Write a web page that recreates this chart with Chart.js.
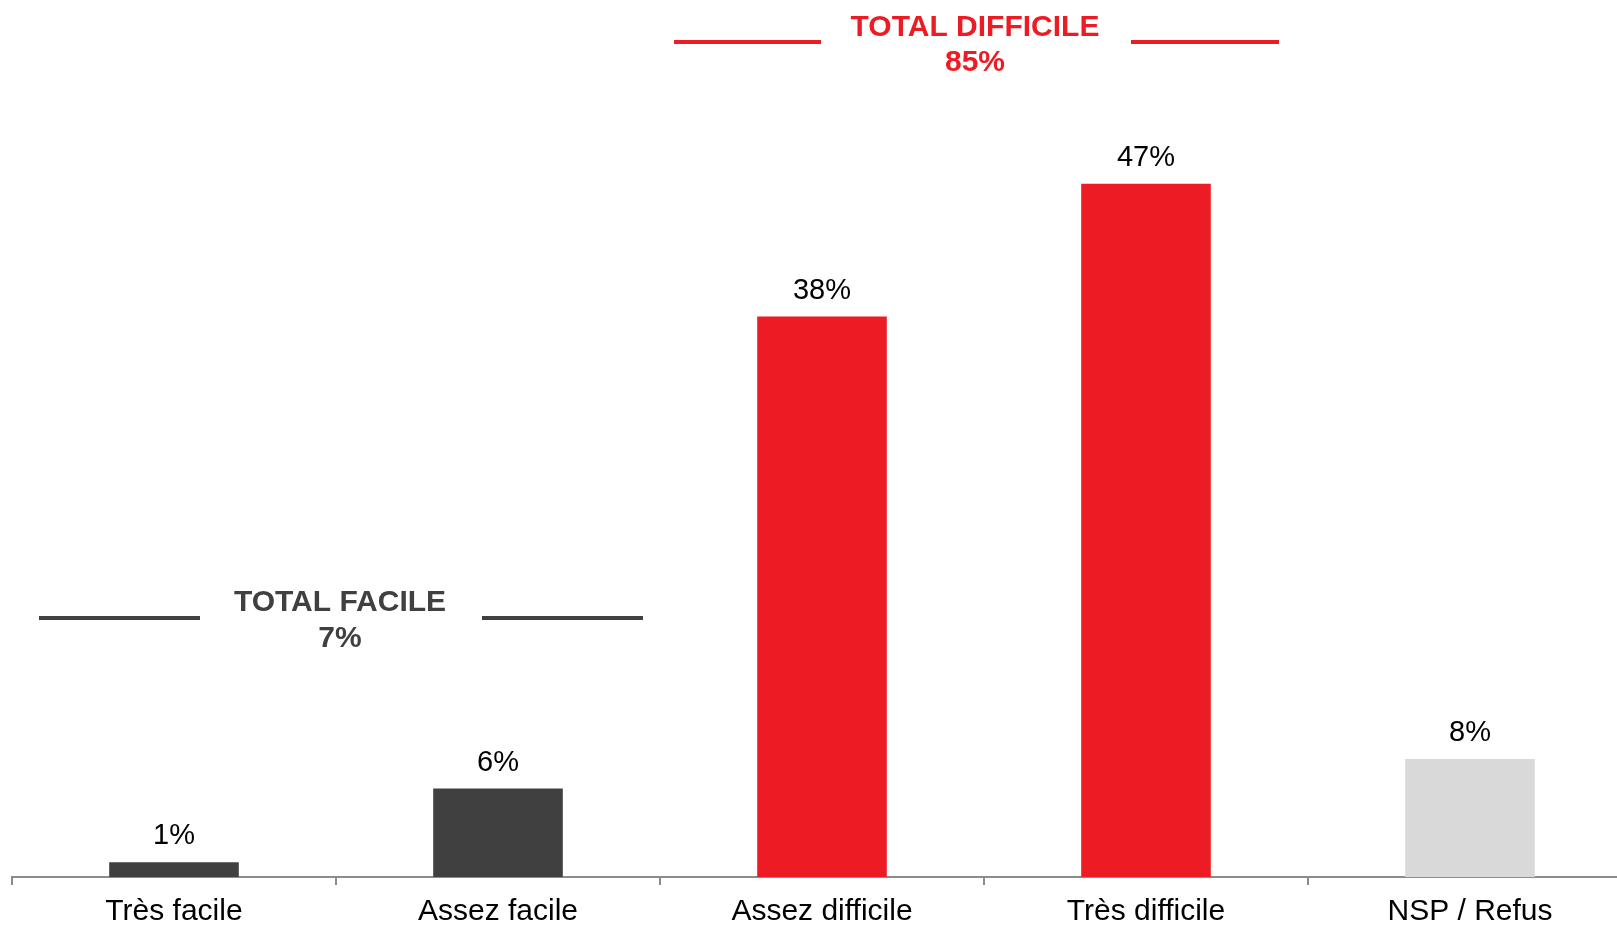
<!DOCTYPE html>
<html>
<head>
<meta charset="utf-8">
<script src="https://cdn.jsdelivr.net/npm/chart.js@4/dist/chart.umd.min.js"></script>
<style>
  html, body { margin: 0; padding: 0; background: #fff; overflow: hidden; }
  #wrap { width: 1617px; height: 925px; overflow: hidden; }
</style>
</head>
<body>
<div id="wrap"><canvas id="myChart" width="1640" height="939"></canvas></div>
<script>
var categories = ['Très facile', 'Assez facile', 'Assez difficile', 'Très difficile', 'NSP / Refus'];
var values = [1, 6, 38, 47, 8];
var barColors = ['#404040', '#404040', '#ED1C24', '#ED1C24', '#D9D9D9'];

// totals shown above groups of bars
var totalLabels = ['TOTAL FACILE', 'TOTAL DIFFICILE'];
var totalValues = [7, 85];
var totalGroups = [[0, 1], [2, 3]];

var FONT = '"Liberation Sans", Arial, sans-serif';

// value labels above the bars
var valueLabels = {
    id: 'valueLabels',
    afterDatasetsDraw: function(chart) {
        var ctx = chart.ctx;
        var meta = chart.getDatasetMeta(0);
        ctx.save();
        ctx.font = '29px ' + FONT;
        ctx.fillStyle = '#000';
        ctx.textAlign = 'center';
        ctx.textBaseline = 'alphabetic';
        meta.data.forEach(function(bar, i) {
            ctx.fillText(values[i] + '%', bar.x, bar.y - 18);
        });
        ctx.restore();
    }
};

// group totals with lines either side
var totalsPlugin = {
    id: 'totals',
    afterDraw: function(chart) {
        var ctx = chart.ctx;
        var x = chart.scales.x;
        var styles = [
            { color: '#404040', dx: 4, top: 603, line: 618, second: 639, l: [-297, -136], r: [146, 307] },
            { color: '#ED1C24', dx: -9, top: 28, line: 42, second: 63, l: [-310, -163], r: [147, 295] }
        ];
        ctx.save();
        totalLabels.forEach(function(lbl, i) {
            var g = totalGroups[i];
            var cx = (x.getPixelForValue(g[0]) + x.getPixelForValue(g[1])) / 2;
            var s = styles[i];
            ctx.fillStyle = s.color;
            ctx.strokeStyle = s.color;
            ctx.font = 'bold 30px ' + FONT;
            ctx.textAlign = 'center';
            ctx.textBaseline = 'middle';
            ctx.fillText(lbl, cx + s.dx, s.top);
            ctx.fillText(totalValues[i] + '%', cx + s.dx, s.second);
            ctx.lineWidth = 4;
            ctx.beginPath();
            ctx.moveTo(cx + s.l[0], s.line);
            ctx.lineTo(cx + s.l[1], s.line);
            ctx.moveTo(cx + s.r[0], s.line);
            ctx.lineTo(cx + s.r[1], s.line);
            ctx.stroke();
        });
        ctx.restore();
    }
};

var ctx1 = document.getElementById('myChart').getContext('2d');
var mychart1 = new Chart(ctx1, {
    type: 'bar',
    data: {
        labels: categories,
        datasets: [{
            data: values,
            backgroundColor: barColors,
            borderWidth: 0,
            barPercentage: 0.4,
            categoryPercentage: 1
        }]
    },
    options: {
        responsive: false,
        animation: false,
        layout: { padding: { left: 12, right: 8, top: 1, bottom: 0 } },
        plugins: {
            legend: { display: false },
            tooltip: { enabled: false }
        },
        scales: {
            x: {
                grid: {
                    offset: true,
                    drawOnChartArea: false,
                    drawTicks: true,
                    tickLength: 8,
                    color: '#8c8c8c',
                    lineWidth: 2
                },
                border: { display: true, color: '#8c8c8c', width: 2 },
                ticks: {
                    color: '#000',
                    padding: 12,
                    font: { family: FONT, size: 30, lineHeight: 1 },
                    maxRotation: 0
                }
            },
            y: {
                display: false,
                min: 0,
                max: 59.4
            }
        }
    },
    plugins: [valueLabels, totalsPlugin]
});
</script>
</body>
</html>
